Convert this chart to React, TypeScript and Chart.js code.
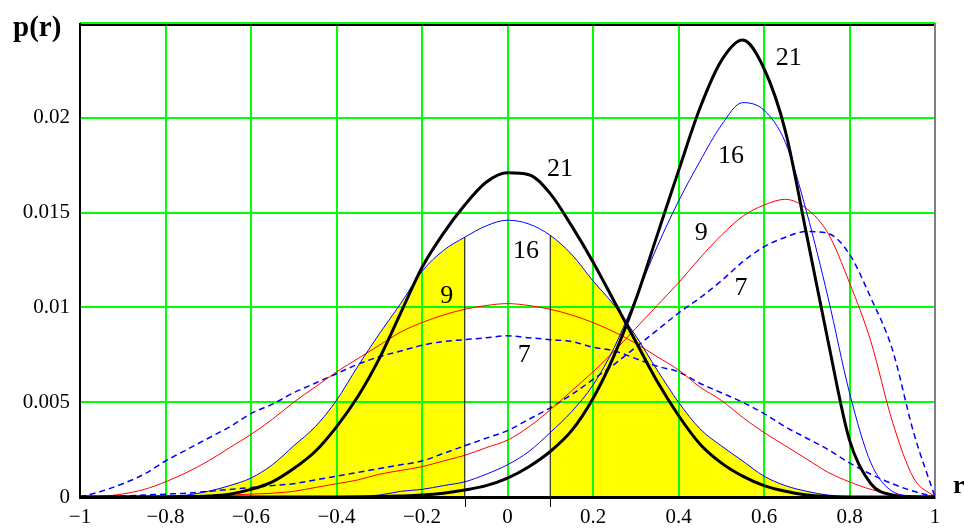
import React, { useEffect, useRef } from 'react';
import { Chart, registerables } from 'chart.js';

Chart.register(...registerables);

// r values (x axis), step 0.05
const rGrid = [
  -1, -0.95, -0.9, -0.85, -0.8, -0.75, -0.7, -0.65, -0.6, -0.55,
  -0.5, -0.45, -0.4, -0.35, -0.3, -0.25, -0.2, -0.15, -0.1, -0.05,
  0,
  0.05, 0.1, 0.15, 0.2, 0.25, 0.3, 0.35, 0.4, 0.45, 0.5,
  0.55, 0.6, 0.65, 0.7, 0.75, 0.8, 0.85, 0.9, 0.95, 1,
];

// distributions centred on 0
const nullN7 = [
  0, 0.0003, 0.0007, 0.0012, 0.0019, 0.0025, 0.0031, 0.0037, 0.0044, 0.0049,
  0.0055, 0.006, 0.0065, 0.007, 0.0074, 0.0077, 0.008, 0.0082, 0.0083, 0.0084,
  0.0085,
  0.0084, 0.0083, 0.0082, 0.0079, 0.0077, 0.0073, 0.0069, 0.0066, 0.006, 0.0055,
  0.005, 0.0044, 0.0037, 0.0031, 0.0025, 0.0018, 0.0012, 0.0007, 0.0003, 0,
];
const nullN9 = [
  0, 0.00003, 0.00016, 0.0004, 0.0008, 0.0013, 0.0019, 0.0026, 0.0033, 0.0041,
  0.005, 0.0058, 0.0066, 0.0073, 0.008, 0.0087, 0.0092, 0.0096, 0.0099, 0.0101,
  0.0102,
  0.0101, 0.0099, 0.0096, 0.0092, 0.0087, 0.0081, 0.0074, 0.0067, 0.0058, 0.0051,
  0.0042, 0.0034, 0.0027, 0.002, 0.0013, 0.0008, 0.0004, 0.00016, 0.00003, 0,
];
const nullN16 = [
  0, 0, 0, 0.00001, 0.00004, 0.0001, 0.0003, 0.0006, 0.001, 0.0017,
  0.0027, 0.0037, 0.0051, 0.0069, 0.0086, 0.0102, 0.0119, 0.013, 0.0137, 0.0143,
  0.0146,
  0.0144, 0.0138, 0.0128, 0.0114, 0.0101, 0.0085, 0.0067, 0.005, 0.0036, 0.0027,
  0.0019, 0.0011, 0.0006, 0.0003, 0.0001, 0.00003, 0.00001, 0, 0, 0,
];
const nullN21 = [
  0, 0, 0, 0, 0, 0.00001, 0.00005, 0.00015, 0.0004, 0.0008,
  0.0015, 0.0024, 0.0037, 0.0053, 0.0073, 0.0097, 0.0121, 0.0139, 0.0154, 0.0166,
  0.0171,
  0.017, 0.016, 0.0143, 0.0124, 0.0103, 0.0082, 0.0061, 0.0043, 0.0028, 0.0018,
  0.0011, 0.0006, 0.0003, 0.0001, 0.00003, 0, 0, 0, 0, 0,
];

// distributions shifted to the right
const altN7 = [
  0, 0.00002, 0.00005, 0.0001, 0.00015, 0.0002, 0.0003, 0.0004, 0.0005, 0.0006,
  0.0007, 0.0009, 0.0011, 0.0013, 0.0015, 0.0017, 0.0019, 0.0023, 0.0027, 0.0031,
  0.0035,
  0.0041, 0.0047, 0.0054, 0.0062, 0.007, 0.0079, 0.0088, 0.0097, 0.0105, 0.0114,
  0.0124, 0.0132, 0.0137, 0.014, 0.0139, 0.0128, 0.0105, 0.0078, 0.0034, 0,
];
const altN9 = [
  0, 0, 0, 0, 0, 0.00002, 0.00005, 0.0001, 0.00015, 0.0002,
  0.0003, 0.0005, 0.0007, 0.0009, 0.0012, 0.0014, 0.0016, 0.0019, 0.0022, 0.0026,
  0.003,
  0.0037, 0.0046, 0.0056, 0.0066, 0.0077, 0.0089, 0.0101, 0.0113, 0.0126, 0.0138,
  0.0148, 0.0154, 0.0157, 0.0152, 0.0139, 0.0113, 0.0082, 0.004, 0.001, 0,
];
const altN16 = [
  0, 0, 0, 0, 0, 0, 0, 0, 0, 0,
  0, 0, 0.00002, 0.00005, 0.0001, 0.0003, 0.0004, 0.0006, 0.0008, 0.0012,
  0.0017,
  0.0024, 0.0034, 0.0045, 0.0059, 0.0079, 0.0105, 0.0132, 0.0156, 0.0177, 0.0196,
  0.0208, 0.0204, 0.0187, 0.015, 0.0105, 0.0055, 0.0018, 0.0003, 0.00005, 0,
];
const altN21 = [
  0, 0, 0, 0, 0, 0, 0, 0, 0, 0,
  0, 0, 0, 0, 0.00002, 0.00005, 0.0001, 0.0002, 0.00037, 0.0006,
  0.001,
  0.0016, 0.0024, 0.0035, 0.0052, 0.0075, 0.0104, 0.0138, 0.0172, 0.0205, 0.023,
  0.0241, 0.0226, 0.0193, 0.0138, 0.0082, 0.003, 0.0007, 0.0001, 0, 0,
];

// shaded tails beyond these r values (under the n=16 centred curve)
const cutoffs = [-0.1, 0.1];

// curve annotations
const labelTexts = ['21', '16', '9', '7', '21', '16', '9', '7'];
const labelR = [0.123, 0.043, -0.142, 0.039, 0.658, 0.523, 0.453, 0.546];
const labelP = [0.0173, 0.01295, 0.01058, 0.00747, 0.02316, 0.01795, 0.01389, 0.011];

const SERIF = "'Liberation Serif', 'Times New Roman', serif";
const BLUE = '#0000FF';
const RED = '#FF0000';
const BLACK = '#000000';
const YELLOW = '#FFFF00';
const GREEN = '#00FF00';

function toPoints(values: number[]) {
  return rGrid.map((r, i) => ({ x: r, y: values[i] }));
}

function fmt(v: number) {
  const n = Math.round(v * 10000) / 10000;
  if (n === 0) return '0';
  return n < 0 ? '\u2212' + String(-n) : String(n);
}

function curve(values: number[], color: string, width: number, dash: number[], order: number) {
  return {
    data: toPoints(values),
    borderColor: color,
    borderWidth: width,
    borderDash: dash,
    pointRadius: 0,
    fill: false,
    cubicInterpolationMode: 'monotone',
    order,
  };
}

const overlayPlugin = {
  id: 'overlay',
  beforeDatasetsDraw(chart: any) {
    const { ctx, chartArea: a, scales } = chart;
    ctx.save();
    ctx.fillStyle = '#808080';
    ctx.fillRect(a.right - 1, a.top, 2, a.bottom - a.top + 2);
    ctx.fillStyle = BLACK;
    ctx.fillRect(a.left - 1, a.top + 1, a.right - a.left, 2);
    ctx.fillRect(a.left - 1, a.top, 2, a.bottom - a.top + 2);
    ctx.fillRect(a.left - 1, a.bottom - 1, a.right - a.left + 1, 3);
    ctx.strokeStyle = BLACK;
    ctx.lineWidth = 1;
    cutoffs.forEach((c) => {
      const x = Math.round(scales.x.getPixelForValue(c)) + 0.5;
      ctx.beginPath();
      ctx.moveTo(x, a.bottom);
      ctx.lineTo(x, a.bottom + 10);
      ctx.stroke();
    });
    ctx.restore();
  },
  afterDatasetsDraw(chart: any) {
    const { ctx, chartArea: a, scales } = chart;
    ctx.save();
    ctx.fillStyle = BLACK;
    ctx.font = `26px ${SERIF}`;
    ctx.textAlign = 'center';
    ctx.textBaseline = 'middle';
    labelTexts.forEach((t, i) => {
      ctx.fillText(t, scales.x.getPixelForValue(labelR[i]), scales.y.getPixelForValue(labelP[i]));
    });
    ctx.textAlign = 'left';
    ctx.textBaseline = 'alphabetic';
    ctx.font = `bold 29px ${SERIF}`;
    ctx.fillText('p(r)', a.left - 67, a.top + 13);
    ctx.font = `bold 26px ${SERIF}`;
    ctx.fillText('r', a.right + 18, a.bottom - 4);
    ctx.restore();
  },
};

export default function App() {
  const ref = useRef<HTMLCanvasElement>(null);

  useEffect(() => {
    const leftIdx = rGrid.findIndex((r) => Math.abs(r - cutoffs[0]) < 1e-9);
    const rightIdx = rGrid.findIndex((r) => Math.abs(r - cutoffs[1]) < 1e-9);
    const n16pts = toPoints(nullN16);

    const datasets: any[] = [
      {
        data: [{ x: cutoffs[0], y: 0 }, { x: cutoffs[0], y: nullN16[leftIdx] }],
        borderColor: BLACK, borderWidth: 1, pointRadius: 0, fill: false, order: 0,
      },
      {
        data: [{ x: cutoffs[1], y: 0 }, { x: cutoffs[1], y: nullN16[rightIdx] }],
        borderColor: BLACK, borderWidth: 1, pointRadius: 0, fill: false, order: 0,
      },
      curve(nullN21, BLACK, 3, [], 1),
      curve(altN21, BLACK, 3, [], 1),
      curve(nullN16, BLUE, 1, [], 2),
      curve(altN16, BLUE, 1, [], 2),
      curve(nullN9, RED, 1, [], 3),
      curve(altN9, RED, 1, [], 3),
      curve(nullN7, BLUE, 1.5, [6, 4], 4),
      curve(altN7, BLUE, 1.5, [6, 4], 4),
      {
        data: n16pts.slice(0, leftIdx + 1),
        borderColor: 'rgba(0,0,0,0)', borderWidth: 0, backgroundColor: YELLOW,
        fill: 'origin', pointRadius: 0, cubicInterpolationMode: 'monotone', order: 20,
      },
      {
        data: n16pts.slice(rightIdx),
        borderColor: 'rgba(0,0,0,0)', borderWidth: 0, backgroundColor: YELLOW,
        fill: 'origin', pointRadius: 0, cubicInterpolationMode: 'monotone', order: 20,
      },
    ];

    const chart = new Chart(ref.current as HTMLCanvasElement, {
      type: 'line',
      data: { datasets },
      options: {
        animation: false,
        responsive: false,
        events: [],
        layout: { padding: { top: 23, right: 29, left: 0, bottom: 0 } },
        plugins: {
          legend: { display: false },
          tooltip: { enabled: false },
          filler: { drawTime: 'beforeDraw' },
        } as any,
        scales: {
          x: {
            type: 'linear',
            min: -1,
            max: 1,
            afterFit: (s: any) => { s.height = 31; },
            ticks: {
              stepSize: 0.2,
              autoSkip: false,
              maxRotation: 0,
              color: BLACK,
              font: { family: SERIF, size: 21 },
              padding: 8,
              callback: (v: any) => fmt(Number(v)),
            },
            grid: { color: GREEN, lineWidth: 2, drawTicks: false },
            border: { display: false },
          },
          y: {
            type: 'linear',
            min: 0,
            max: 0.025,
            afterFit: (s: any) => { s.width = 80; },
            ticks: {
              stepSize: 0.005,
              color: BLACK,
              font: { family: SERIF, size: 21 },
              padding: 10,
              callback: (v: any) => (Number(v) > 0.0249 ? '' : fmt(Number(v))),
            },
            grid: { color: GREEN, lineWidth: 2, drawTicks: false },
            border: { display: false },
          },
        } as any,
      },
      plugins: [overlayPlugin],
    } as any);

    return () => chart.destroy();
  }, []);

  return (
    <div style={{ position: 'absolute', left: 0, top: 0, width: 964, height: 528, background: '#fff' }}>
      <canvas ref={ref} width={964} height={528} style={{ display: 'block', width: 964, height: 528 }} />
    </div>
  );
}
